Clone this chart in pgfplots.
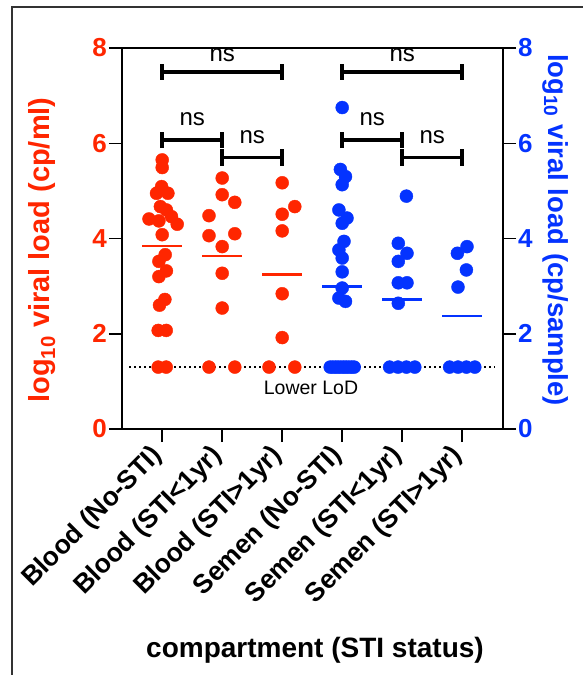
\documentclass[border=0pt]{standalone}
\usepackage{fontspec}
\setmainfont{Liberation Sans}
\usepackage{pgfplots}
\pgfplotsset{compat=1.18}
\definecolor{pred}{HTML}{FF2600}
\definecolor{pblue}{HTML}{0433FF}
\newcommand{\fs}[1]{\fontsize{#1}{#1}\selectfont}

\pgfplotsset{
  vlbase/.style={
    at={(122pt,-429pt)}, anchor=south west,
    scale only axis, width=381pt, height=381pt,
    xmin=-0.67, xmax=5.68, ymin=0, ymax=8,
    ytick={0,2,4,6,8},
    tick align=outside, major tick length=13pt,
    axis line style={line width=1.5pt},
    major tick style={line width=1.5pt,black},
    /pgf/number format/assume math mode=true,
    clip=false,
  },
}

\begin{document}
\begin{tikzpicture}[x=1pt,y=1pt]
\begin{axis}[vlbase,
  ytick pos=left, xtick pos=left,
  xtick={0,...,5},
  xticklabels={Blood (No-STI),Blood (STI<1yr),Blood (STI>1yr),
               Semen (No-STI),Semen (STI<1yr),Semen (STI>1yr)},
  yticklabel style={font=\fs{26}\bfseries,text=pred,inner sep=2pt},
  xticklabel shift=9pt,
  xticklabel style={font=\fs{26.5}\bfseries,xshift=-3pt,rotate=45,anchor=east,inner sep=1pt},
]
% lower limit of detection
\addplot[black,line width=1.6pt,dash pattern=on 1.6pt off 3.4pt]
  coordinates {(-0.55,1.3) (5.55,1.3)};
\node[font=\fs{19.5}] at (2.48,0.86) {Lower LoD};

% blood
\addplot[only marks,mark=*,mark size=6.5pt,color=pred] coordinates {
  (0,5.65) (0,5.49) (-0.01,5.09) (-0.095,4.95) (0.095,4.95) (-0.03,4.67)
  (0.07,4.60) (-0.22,4.41) (-0.055,4.37) (0.155,4.46) (0.25,4.30) (0,4.08)
  (0.05,3.66) (-0.055,3.52) (0.07,3.32) (-0.055,3.20) (0.045,2.72) (-0.045,2.60)
  (-0.067,2.07) (0.067,2.07) (-0.067,1.3) (0.067,1.3)};
\addplot[only marks,mark=*,mark size=6.5pt,color=pred] coordinates {
  (1,5.27) (1,4.92) (1.21,4.76) (0.78,4.48) (0.78,4.06) (1.21,4.10)
  (1,3.83) (1,3.27) (1,2.54) (0.78,1.3) (1.21,1.3)};
\addplot[only marks,mark=*,mark size=6.5pt,color=pred] coordinates {
  (2,5.17) (2.21,4.67) (2,4.51) (2,4.16) (2,2.84) (2,1.92) (1.78,1.3) (2.21,1.3)};

% semen
\addplot[only marks,mark=*,mark size=6.5pt,color=pblue] coordinates {
  (3,6.75) (2.97,5.45) (3.055,5.30) (3,5.13) (2.945,4.60) (3.08,4.43) (3,4.32)
  (3.03,3.94) (2.945,3.76) (3,3.59) (3,3.30) (3,2.96) (2.945,2.75) (3.055,2.68)
  (2.8,1.3) (2.844,1.3) (2.889,1.3) (2.933,1.3) (2.978,1.3)
  (3.022,1.3) (3.067,1.3) (3.111,1.3) (3.156,1.3) (3.2,1.3)};
\addplot[only marks,mark=*,mark size=6.5pt,color=pblue] coordinates {
  (4.07,4.89) (3.935,3.90) (4.08,3.69) (3.935,3.52) (3.935,3.07) (4.08,3.07)
  (3.935,2.64) (3.79,1.3) (3.93,1.3) (4.07,1.3) (4.21,1.3)};
\addplot[only marks,mark=*,mark size=6.5pt,color=pblue] coordinates {
  (5.08,3.83) (4.92,3.69) (5.07,3.34) (4.93,2.98)
  (4.79,1.3) (4.93,1.3) (5.07,1.3) (5.21,1.3)};

% means
\addplot[pred,line width=2.5pt] coordinates {(-0.33,3.84) (0.33,3.84)};
\addplot[pred,line width=2.5pt] coordinates {(0.67,3.63) (1.33,3.63)};
\addplot[pred,line width=2.5pt] coordinates {(1.67,3.24) (2.33,3.24)};
\addplot[pblue,line width=2.5pt] coordinates {(2.67,2.99) (3.33,2.99)};
\addplot[pblue,line width=2.5pt] coordinates {(3.67,2.72) (4.33,2.72)};
\addplot[pblue,line width=2.5pt] coordinates {(4.67,2.37) (5.33,2.37)};

% comparisons
\draw[line width=3.5pt]
  (0,7.33) -- (0,7.67) (0,7.5) -- (2,7.5) (2,7.33) -- (2,7.67)
  (0,5.9) -- (0,6.24) (0,6.07) -- (1,6.07) (1,5.9) -- (1,6.24)
  (1,5.53) -- (1,5.87) (1,5.7) -- (2,5.7) (2,5.53) -- (2,5.87)
  (3,7.33) -- (3,7.67) (3,7.5) -- (5,7.5) (5,7.33) -- (5,7.67)
  (3,5.9) -- (3,6.24) (3,6.07) -- (4,6.07) (4,5.9) -- (4,6.24)
  (4,5.53) -- (4,5.87) (4,5.7) -- (5,5.7) (5,5.53) -- (5,5.87);
\node[font=\fs{24}] at (1,7.86) {ns};
\node[font=\fs{24}] at (0.5,6.5) {ns};
\node[font=\fs{24}] at (1.5,6.12) {ns};
\node[font=\fs{24}] at (4,7.86) {ns};
\node[font=\fs{24}] at (3.5,6.5) {ns};
\node[font=\fs{24}] at (4.5,6.12) {ns};
\end{axis}

\begin{axis}[vlbase,
  axis y line*=right, axis x line=none,
  yticklabel style={font=\fs{26}\bfseries,text=pblue,inner sep=2pt},
]
\end{axis}

\node[rotate=90,text=pred,font=\fs{29}\bfseries] at (42,-250)
  {log\textsubscript{10} viral load (cp/ml)};
\node[rotate=-90,text=pblue,font=\fs{27.5}\bfseries] at (556,-230)
  {log\textsubscript{10} viral load (cp/sample)};
\node[font=\fs{28}\bfseries] at (315,-650) {compartment (STI status)};
\draw[line width=1.5pt,black!80] (12,-680) -- (12,-7) -- (590,-7);

\pgfresetboundingbox
\path[use as bounding box] (0,0) rectangle (582,-675);
\end{tikzpicture}
\end{document}
